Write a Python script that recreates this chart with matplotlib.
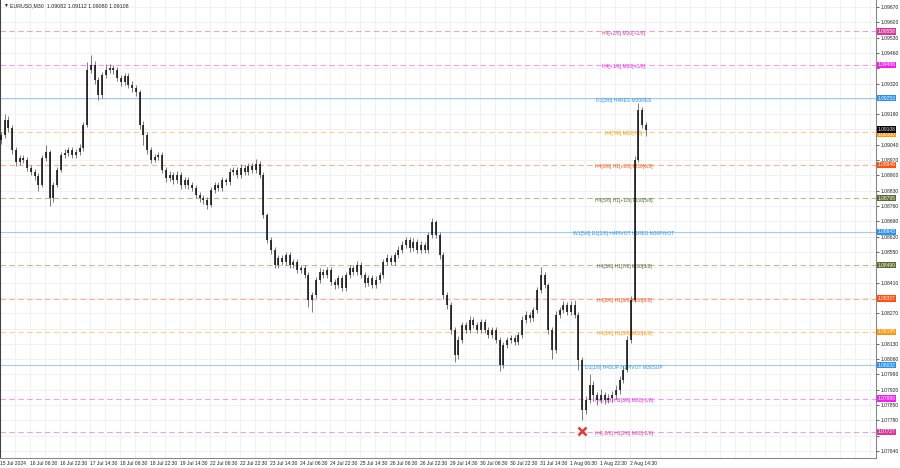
import numpy as np
import matplotlib.pyplot as plt
from matplotlib.transforms import blended_transform_factory

plt.rcParams['font.family'] = ['Liberation Sans', 'DejaVu Sans']

first_open = 1.09062
closes = [
    1.09085, 1.09153, 1.09117, 1.09016, 1.08961, 1.08980, 1.08971, 1.08934, 1.08916, 1.08897,
    1.08856, 1.08980, 1.09007, 1.08797, 1.08856, 1.08925, 1.08993, 1.09003, 1.09016, 1.08993,
    1.09007, 1.09025, 1.09131, 1.09382, 1.09405, 1.09336, 1.09268, 1.09359, 1.09382, 1.09391,
    1.09382, 1.09345, 1.09327, 1.09355, 1.09313, 1.09300, 1.09281, 1.09131, 1.09085, 1.09016,
    1.08971, 1.08984, 1.08993, 1.08925, 1.08888, 1.08902, 1.08879, 1.08902, 1.08856, 1.08879,
    1.08856, 1.08843, 1.08811, 1.08797, 1.08788, 1.08765, 1.08833, 1.08856, 1.08843, 1.08879,
    1.08870, 1.08916, 1.08925, 1.08902, 1.08934, 1.08916, 1.08943, 1.08925, 1.08952, 1.08902,
    1.08719, 1.08605, 1.08559, 1.08491, 1.08523, 1.08504, 1.08536, 1.08491, 1.08504, 1.08468,
    1.08477, 1.08445, 1.08331, 1.08353, 1.08422, 1.08459, 1.08445, 1.08468, 1.08413, 1.08399,
    1.08431, 1.08385, 1.08445, 1.08477, 1.08459, 1.08491, 1.08445, 1.08408, 1.08431, 1.08399,
    1.08422, 1.08445, 1.08504, 1.08523, 1.08504, 1.08536, 1.08559, 1.08582, 1.08605, 1.08568,
    1.08596, 1.08559, 1.08582, 1.08559, 1.08628, 1.08687, 1.08628, 1.08536, 1.08353, 1.08308,
    1.08193, 1.08079, 1.08148, 1.08216, 1.08193, 1.08239, 1.08216, 1.08193, 1.08230, 1.08193,
    1.08171, 1.08193, 1.08148, 1.08033, 1.08125, 1.08148, 1.08157, 1.08139, 1.08171, 1.08239,
    1.08262, 1.08248, 1.08285, 1.08376, 1.08445, 1.08399, 1.08193, 1.08102, 1.08262, 1.08285,
    1.08308, 1.08276, 1.08308, 1.08262, 1.08056, 1.07828, 1.07873, 1.07942, 1.07896, 1.07873,
    1.07896, 1.07873, 1.07883, 1.07896, 1.07919, 1.07965, 1.08011, 1.08148, 1.08331, 1.08971,
    1.09199, 1.09131, 1.09108,
]
highs = [
    1.09100, 1.09180, 1.09170, 1.09130, 1.09030, 1.08995, 1.08992, 1.08985, 1.08948, 1.08930,
    1.08910, 1.08995, 1.09040, 1.09015, 1.08870, 1.08940, 1.09005, 1.09020, 1.09030, 1.09030,
    1.09022, 1.09045, 1.09145, 1.09420, 1.09450, 1.09425, 1.09350, 1.09375, 1.09410, 1.09410,
    1.09405, 1.09395, 1.09360, 1.09370, 1.09368, 1.09330, 1.09315, 1.09290, 1.09150, 1.09100,
    1.09030, 1.09000, 1.09008, 1.09005, 1.08940, 1.08918, 1.08915, 1.08920, 1.08915, 1.08895,
    1.08892, 1.08870, 1.08855, 1.08825, 1.08810, 1.08800, 1.08848, 1.08872, 1.08868, 1.08895,
    1.08890, 1.08932, 1.08940, 1.08938, 1.08950, 1.08948, 1.08958, 1.08955, 1.08975, 1.08965,
    1.08915, 1.08730, 1.08620, 1.08572, 1.08538, 1.08536, 1.08550, 1.08548, 1.08520, 1.08518,
    1.08492, 1.08490, 1.08458, 1.08368, 1.08436, 1.08475, 1.08472, 1.08482, 1.08480, 1.08428,
    1.08446, 1.08445, 1.08460, 1.08492, 1.08490, 1.08508, 1.08502, 1.08458, 1.08445, 1.08445,
    1.08438, 1.08460, 1.08520, 1.08540, 1.08538, 1.08552, 1.08575, 1.08598, 1.08620, 1.08618,
    1.08612, 1.08610, 1.08598, 1.08595, 1.08642, 1.08705, 1.08698, 1.08640, 1.08548, 1.08368,
    1.08320, 1.08205, 1.08165, 1.08232, 1.08230, 1.08255, 1.08252, 1.08230, 1.08245, 1.08244,
    1.08208, 1.08208, 1.08206, 1.08160, 1.08140, 1.08162, 1.08172, 1.08170, 1.08185, 1.08255,
    1.08278, 1.08276, 1.08300, 1.08392, 1.08482, 1.08460, 1.08410, 1.08205, 1.08278, 1.08300,
    1.08325, 1.08322, 1.08325, 1.08330, 1.08275, 1.08070, 1.07890, 1.07990, 1.07958, 1.07910,
    1.07925, 1.07910, 1.07900, 1.07915, 1.07940, 1.07985, 1.08030, 1.08165, 1.08350, 1.08990,
    1.09231, 1.09215, 1.09145,
]
lows = [
    1.09045, 1.09070, 1.09100, 1.09000, 1.08945, 1.08948, 1.08955, 1.08920, 1.08900, 1.08880,
    1.08830, 1.08845, 1.08965, 1.08760, 1.08780, 1.08845, 1.08915, 1.08980, 1.08990, 1.08978,
    1.08980, 1.08995, 1.09010, 1.09120, 1.09370, 1.09320, 1.09245, 1.09255, 1.09345, 1.09370,
    1.09365, 1.09330, 1.09310, 1.09315, 1.09300, 1.09280, 1.09265, 1.09110, 1.09040, 1.09000,
    1.08955, 1.08960, 1.08970, 1.08910, 1.08872, 1.08875, 1.08860, 1.08865, 1.08840, 1.08842,
    1.08840, 1.08828, 1.08795, 1.08780, 1.08770, 1.08745, 1.08755, 1.08820, 1.08828, 1.08830,
    1.08855, 1.08858, 1.08900, 1.08888, 1.08890, 1.08900, 1.08902, 1.08910, 1.08912, 1.08888,
    1.08705, 1.08590, 1.08540, 1.08475, 1.08478, 1.08490, 1.08490, 1.08476, 1.08478, 1.08452,
    1.08452, 1.08430, 1.08300, 1.08276, 1.08340, 1.08408, 1.08430, 1.08430, 1.08398, 1.08382,
    1.08385, 1.08370, 1.08372, 1.08430, 1.08445, 1.08445, 1.08430, 1.08392, 1.08395, 1.08383,
    1.08385, 1.08408, 1.08432, 1.08490, 1.08490, 1.08490, 1.08522, 1.08545, 1.08568, 1.08552,
    1.08555, 1.08545, 1.08545, 1.08545, 1.08545, 1.08615, 1.08612, 1.08520, 1.08335, 1.08290,
    1.08175, 1.08045, 1.08062, 1.08135, 1.08178, 1.08180, 1.08202, 1.08178, 1.08180, 1.08178,
    1.08155, 1.08158, 1.08132, 1.08006, 1.08020, 1.08110, 1.08135, 1.08125, 1.08125, 1.08158,
    1.08225, 1.08232, 1.08235, 1.08270, 1.08362, 1.08385, 1.08176, 1.08062, 1.08090, 1.08248,
    1.08270, 1.08262, 1.08262, 1.08248, 1.08010, 1.07782, 1.07810, 1.07860, 1.07870, 1.07850,
    1.07860, 1.07855, 1.07858, 1.07865, 1.07880, 1.07900, 1.07950, 1.08000, 1.08135, 1.08320,
    1.08960, 1.09115, 1.09080,
]
current_price = 1.09108

time_labels = ['15 Jul 2024', '16 Jul 06:30', '16 Jul 22:30', '17 Jul 14:30', '18 Jul 06:30',
               '18 Jul 22:30', '19 Jul 14:30', '22 Jul 06:30', '22 Jul 22:30', '23 Jul 14:30',
               '24 Jul 06:30', '24 Jul 22:30', '25 Jul 14:30', '26 Jul 06:30', '26 Jul 22:30',
               '29 Jul 14:30', '30 Jul 06:30', '30 Jul 22:30', '31 Jul 14:30', '1 Aug 06:30',
               '1 Aug 22:30', '2 Aug 14:30']

# Murrey math levels
level_prices = [1.09558, 1.09406, 1.09253, 1.09100, 1.08948, 1.08795, 1.08643,
                1.08490, 1.08337, 1.08185, 1.08032, 1.07880, 1.07727]
level_names = ['H4[+2/8] M30[+2/8]', 'H4[+1/8] M30[+1/8]', 'D1[3/8] H4RES M30RES',
               'H4[7/8] M30[7/8]', 'H4[6/8] H1[+2/8] M30[6/8]', 'H4[5/8] H1[+1/8] M30[5/8]',
               'W1[5/8] D1[2/8] H4PIVOT H1RES M30PIVOT', 'H4[3/8] H1[7/8] M30[3/8]',
               'H4[2/8] H1[6/8] M30[2/8]', 'H4[1/8] H1[5/8] M30[1/8]',
               'D1[1/8] H4SUP H1PIVOT M30SUP', 'H4[-1/8] H1[3/8] M30[-1/8]',
               'H4[-2/8] H1[2/8] M30[-2/8]']
level_colors = ['#d6389c', '#ee22ee', '#2b92f0', '#ff9408', '#ff5010', '#5a6b30', '#2b92f0',
                '#5a6b30', '#ff5010', '#ff9408', '#2b92f0', '#ee22ee', '#d6389c']
level_solid = [False, False, True, False, False, False, True, False, False, False, True, False, False]

cross_index = 155
cross_price = 1.07732

bars_per_candle = 4
opens = [first_open] + closes[:-1]
x = np.arange(len(closes)) * bars_per_candle + 1

fig = plt.figure(figsize=(9, 4.68), dpi=100)
ax = fig.add_axes([0, 10 / 468, 876 / 900, 458 / 468])
ax.set_xlim(0, 934.4)
ax.set_ylim(1.07608, 1.09702)

# grid and axes
yt = np.arange(1.07640, 1.09671, 0.0007)
ax.set_yticks(yt)
# the coloured price boxes cover the tick labels next to them
ax.set_yticklabels(['' if min(abs(v - p) for p in level_prices + [current_price]) < 0.0002
                    else f'{v:.5f}' for v in yt])
ax.set_xticks(np.arange(len(time_labels)) * 32)
ax.set_xticks(np.arange(0, 934, 16), minor=True)
ax.set_xticklabels(time_labels, ha='left')
ax.grid(True, which='both', color='#efefef', lw=0.6, zorder=0)
ax.set_axisbelow(True)

ax.yaxis.tick_right()
ax.tick_params(axis='y', labelsize=3.6, length=2, width=0.5, pad=1.5, colors='#222222')
ax.tick_params(axis='x', which='both', labelsize=3.6, length=0, pad=2, colors='#222222')
ax.spines['top'].set_visible(False)
for s in ['right', 'bottom']:
    ax.spines[s].set_color('#888888')
    ax.spines[s].set_linewidth(0.8)
ax.spines['left'].set_color('#444444')

# levels
trans = blended_transform_factory(ax.transAxes, ax.transData)
for p, name, col, solid in zip(level_prices, level_names, level_colors, level_solid):
    ax.axhline(p, color=col, lw=0.8, ls='-' if solid else (0, (5, 3)), alpha=0.45, zorder=1)
    ax.annotate(name, (665.6, p), xytext=(0, -1.3), textcoords='offset points',
                ha='center', va='center', fontsize=3.6, color=col, zorder=2)
    dy = -0.00011 if p == 1.09100 else 0
    ax.text(1.0015, p + dy, f'{p:.5f}', transform=trans, ha='left', va='center',
            fontsize=3.5, color='white', clip_on=False, zorder=6,
            bbox=dict(boxstyle='square,pad=0.12', fc=col, ec='none'))
ax.text(1.0015, current_price + 0.00002, f'{current_price:.5f}', transform=trans,
        ha='left', va='center', fontsize=3.5, color='white', clip_on=False, zorder=7,
        bbox=dict(boxstyle='square,pad=0.12', fc='black', ec='none'))

# candles
o = np.array(opens)
c = np.array(closes)
ax.vlines(x, lows, highs, color='#666666', lw=0.6, zorder=4)
ax.vlines(x, np.minimum(o, c), np.maximum(o, c), color='#111111', lw=1.15, zorder=5)

ax.plot(x[cross_index], cross_price, marker='x', color='#e03a3a', ms=6, mew=1.8, zorder=6)

ax.text(0.0035, 0.993, '\u25bc', transform=ax.transAxes, fontsize=3.5, va='top', color='#222222')
ax.text(0.011, 0.993, 'EURUSD,M30  1.09082 1.09112 1.09080 1.09108', transform=ax.transAxes,
        fontsize=3.8, va='top', color='#222222')

fig.savefig('out.png', dpi=100)
